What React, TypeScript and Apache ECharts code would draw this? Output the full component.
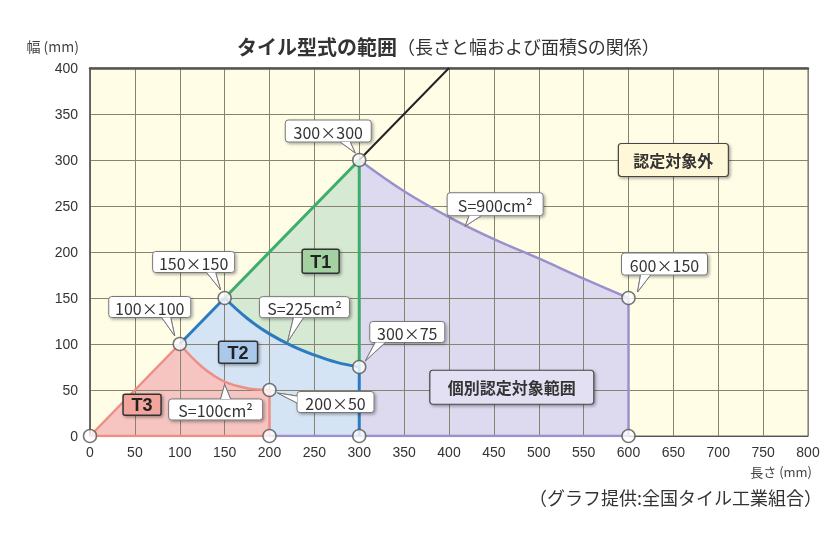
import React, { useEffect, useRef } from "react";
import * as echarts from "echarts";

// ---- data (mm) ----
const xTickStep = 50;
const yTickStep = 50;
const xMax = 800;
const yMax = 400;

const diagT3 = [[0, 0], [100, 100]];
const diagT2 = [[100, 100], [150, 150]];
const diagT1 = [[150, 150], [300, 300]];
const diagOut = [[300, 300], [400, 400]];

const curveS100 = [[100, 100], [125, 75], [150, 59], [175, 52], [200, 50]];
const curveS225 = [[150, 150], [175, 128], [200, 111], [225, 98], [250, 88], [275, 80], [300, 75]];
const curveS900 = [[300, 300], [350, 266], [400, 238], [450, 214], [500, 193], [550, 171], [600, 150]];

const edgeT3Right = [[200, 50], [200, 0]];
const edgeT3Bottom = [[0, 0], [200, 0]];
const edgeT2Right = [[300, 75], [300, 0]];
const edgeT1Right = [[300, 300], [300, 75]];
const edgeIndRight = [[600, 150], [600, 0]];
const edgeIndBottom = [[200, 0], [600, 0]];

const markerPoints = [
  [0, 0], [100, 100], [150, 150], [300, 300], [200, 50], [200, 0],
  [300, 75], [300, 0], [600, 150], [600, 0],
];

const calloutTexts = ["300×300", "150×150", "100×100", "300×75", "200×50", "S=225cm²", "S=100cm²", "S=900cm²", "600×150"];
const calloutAnchors = [[300, 300], [150, 150], [100, 100], [300, 75], [200, 50], [220, 102], [150, 56], [418, 228], [600, 150]];

const typeLabels = ["T1", "T2", "T3"];
const typeAnchors = [[257, 190], [165, 91], [58, 34]];
const zoneLabels = ["認定対象外", "個別認定対象範囲"];
const zoneAnchors = [[650, 300], [470, 53]];

const FONT = '"Liberation Sans", "Noto Sans CJK JP", sans-serif';
const JFONT = '"Noto Sans CJK JP", sans-serif';

const C = {
  pinkFill: "#F6C4C1", pinkLine: "#EE8F86",
  blueFill: "#D5E4F5", blueLine: "#2A7BC2",
  greenFill: "#D6E9D2", greenLine: "#3DAC6C",
  purpleFill: "#DDD9EF", purpleLine: "#9A90CB",
};

// layout of callout boxes (pixel offsets from anchor)
const calloutLayout = [
  { dx: -31, dy: -29, w: 86, h: 22, side: "bottom", a: -19, b: -9, tip: [-4, -7] },
  { dx: -31, dy: -36, w: 82, h: 21, side: "bottom", a: -18, b: -9, tip: [-4, -8] },
  { dx: -30, dy: -37, w: 82, h: 21, side: "bottom", a: -18, b: -9, tip: [-5, -8] },
  { dx: 48, dy: -35, w: 75, h: 21, side: "bottom", a: 16, b: 26, tip: [6, -6] },
  { dx: 66, dy: 12, w: 77, h: 21, side: "left", a: 6, b: 13, tip: [8, 3] },
  { dx: 17, dy: -35, w: 90, h: 21, side: "bottom", a: 6, b: 16, tip: [0, 0] },
  { dx: -9, dy: 25, w: 94, h: 21, side: "top", a: -4, b: 6, tip: [0, 0] },
  { dx: 30, dy: -22, w: 96, h: 23, side: "bottom", a: 4, b: 16, tip: [0, 0] },
  { dx: 36, dy: -34, w: 86, h: 22, side: "bottom", a: 12, b: 22, tip: [9, -6] },
];
const typeLayout = [
  { w: 37, h: 24, fill: "#A3D1A2" },
  { w: 39, h: 22, fill: "#A9C8EA" },
  { w: 38, h: 21, fill: "#F1A59D" },
];
const zoneLayout = [
  { w: 110, h: 33, fill: "#FFF8D8" },
  { w: 164, h: 34, fill: "#E4E0F4" },
];

function areaSeries(data: number[][], color: string, smooth: any = false) {
  return {
    type: "line", data, smooth, showSymbol: false, silent: true, z: 1,
    lineStyle: { width: 0, opacity: 0 }, areaStyle: { color, opacity: 1 },
  };
}
function lineSeries(data: number[][], color: string, width: number, smooth: any = false) {
  return {
    type: "line", data, smooth, showSymbol: false, silent: true, z: 3,
    lineStyle: { color, width },
  };
}

export default function App() {
  const ref = useRef<HTMLDivElement>(null);
  useEffect(() => {
    if (!ref.current) return;
    const chart = echarts.init(ref.current, undefined, { renderer: "svg" });
    const option: any = {
      animation: false,
      grid: { left: 90, right: 17, top: 68, bottom: 98, show: true, backgroundColor: "#FFFDE6", borderColor: "#666", borderWidth: 1 },
      xAxis: [
        {
          type: "value", min: 0, max: xMax, interval: xTickStep, z: 2,
          axisLine: { show: true, lineStyle: { color: "#555", width: 1 } },
          axisTick: { show: false },
          axisLabel: { fontSize: 14, color: "#333", margin: 9, fontFamily: FONT },
          splitLine: { show: true, lineStyle: { color: "#86836F", width: 1 } },
        },
        {
          type: "value", min: 0, max: xMax, interval: xTickStep, position: "top", z: 2,
          axisLine: { show: true, lineStyle: { color: "#555", width: 2.5 } },
          axisTick: { show: false }, axisLabel: { show: false }, splitLine: { show: false },
        },
      ],
      yAxis: {
        type: "value", min: 0, max: yMax, interval: yTickStep, z: 2,
        axisLine: { show: true, lineStyle: { color: "#555", width: 1.5 } },
        axisTick: { show: false },
        axisLabel: { fontSize: 14, color: "#333", margin: 12, fontFamily: FONT },
        splitLine: { show: true, lineStyle: { color: "#86836F", width: 1 } },
      },
      series: [
        areaSeries(curveS900, C.purpleFill, 0.4),
        areaSeries(diagT1, C.greenFill),
        areaSeries(diagT2, C.blueFill),
        areaSeries(curveS225, C.blueFill, 0.4),
        areaSeries(diagT3, C.pinkFill),
        areaSeries(curveS100, C.pinkFill, 0.4),
        lineSeries(edgeIndBottom, C.purpleLine, 2.5),
        lineSeries(curveS900, C.purpleLine, 2.5, 0.4),
        lineSeries(edgeIndRight, C.purpleLine, 2.5),
        lineSeries(edgeT3Bottom, C.pinkLine, 2.5),
        lineSeries(diagT3, C.pinkLine, 2.5),
        lineSeries(curveS100, C.pinkLine, 2.5, 0.4),
        lineSeries(edgeT3Right, C.pinkLine, 2.5),
        lineSeries(edgeT1Right, C.greenLine, 3),
        lineSeries(diagT1, C.greenLine, 3),
        lineSeries(diagT2, C.blueLine, 3),
        lineSeries(curveS225, C.blueLine, 3, 0.4),
        lineSeries(edgeT2Right, C.blueLine, 3),
        lineSeries(diagOut, "#222", 2),
        {
          type: "scatter", data: markerPoints, symbol: "circle", symbolSize: 13, z: 5, silent: true,
          itemStyle: { color: "#fff", borderColor: "#555", borderWidth: 1.5 },
        },
      ],
    };
    chart.setOption(option);

    const px = (p: number[]) => chart.convertToPixel({ xAxisIndex: 0, yAxisIndex: 0 }, p) as number[];
    const shadow = { shadowBlur: 3, shadowColor: "rgba(0,0,0,0.35)", shadowOffsetX: 1.5, shadowOffsetY: 1.5 };
    const g: any[] = [];

    calloutTexts.forEach((t, i) => {
      const L = calloutLayout[i];
      const [ax, ay] = px(calloutAnchors[i]);
      const cx = ax + L.dx, cy = ay + L.dy;
      let b1: number[], b2: number[];
      if (L.side === "bottom") { b1 = [ax + L.a, cy + L.h / 2]; b2 = [ax + L.b, cy + L.h / 2]; }
      else if (L.side === "top") { b1 = [ax + L.a, cy - L.h / 2]; b2 = [ax + L.b, cy - L.h / 2]; }
      else { b1 = [cx - L.w / 2, ay + L.a]; b2 = [cx - L.w / 2, ay + L.b]; }
      const tip = [ax + L.tip[0], ay + L.tip[1]];
      g.push({ type: "polygon", z: 100, shape: { points: [b1, tip, b2] }, style: { fill: "#fff", stroke: "#777", lineWidth: 1 } });
      g.push({ type: "rect", z: 101, shape: { x: cx - L.w / 2, y: cy - L.h / 2, width: L.w, height: L.h, r: 3 }, style: { fill: "#fff", stroke: "#777", lineWidth: 1, ...shadow } });
      g.push({ type: "polygon", z: 102, shape: { points: [b1, tip, b2] }, style: { fill: "#fff", stroke: "none" } });
      g.push({ type: "polyline", z: 102, shape: { points: [b1, tip, b2] }, style: { stroke: "#777", lineWidth: 1, fill: "none" } });
      g.push({ type: "text", z: 103, style: { text: t, x: cx, y: cy + 0.5, align: "center", verticalAlign: "middle", fontSize: 16, fontFamily: JFONT, fill: "#333" } });
    });

    typeLabels.forEach((t, i) => {
      const L = typeLayout[i];
      const [cx, cy] = px(typeAnchors[i]);
      g.push({ type: "rect", z: 101, shape: { x: cx - L.w / 2, y: cy - L.h / 2, width: L.w, height: L.h, r: 2 }, style: { fill: L.fill, stroke: "#333", lineWidth: 1.5, ...shadow } });
      g.push({ type: "text", z: 103, style: { text: t, x: cx, y: cy + 0.5, align: "center", verticalAlign: "middle", fontSize: 18, fontWeight: "bold", fontFamily: FONT, fill: "#222" } });
    });

    zoneLabels.forEach((t, i) => {
      const L = zoneLayout[i];
      const [cx, cy] = px(zoneAnchors[i]);
      g.push({ type: "rect", z: 101, shape: { x: cx - L.w / 2, y: cy - L.h / 2, width: L.w, height: L.h, r: 3 }, style: { fill: L.fill, stroke: "#444", lineWidth: 1.2, ...shadow } });
      g.push({ type: "text", z: 103, style: { text: t, x: cx, y: cy, align: "center", verticalAlign: "middle", fontSize: 16, fontWeight: "bold", fontFamily: JFONT, fill: "#333" } });
    });

    g.push({
      type: "text", z: 103,
      style: {
        text: "{a|タイル型式の範囲}{b|（長さと幅および面積Sの関係）}", x: 237, y: 46, verticalAlign: "middle",
        rich: {
          a: { fontSize: 20, fontWeight: "bold", fontFamily: JFONT, fill: "#333" },
          b: { fontSize: 18, fontFamily: JFONT, fill: "#333" },
        },
      },
    });
    g.push({ type: "text", z: 103, style: { text: "幅 (mm)", x: 79, y: 46, align: "right", verticalAlign: "middle", fontSize: 14, fontFamily: JFONT, fill: "#444" } });
    g.push({ type: "text", z: 103, style: { text: "長さ (mm)", x: 812, y: 471, align: "right", verticalAlign: "middle", fontSize: 13, fontFamily: JFONT, fill: "#444" } });
    g.push({ type: "text", z: 103, style: { text: "（グラフ提供:全国タイル工業組合）", x: 822, y: 497, align: "right", verticalAlign: "middle", fontSize: 18, fontFamily: JFONT, fill: "#333" } });

    chart.setOption({ graphic: g });
    return () => chart.dispose();
  }, []);
  return <div ref={ref} style={{ position: "fixed", left: 0, top: 0, width: 825, height: 534 }} />;
}
